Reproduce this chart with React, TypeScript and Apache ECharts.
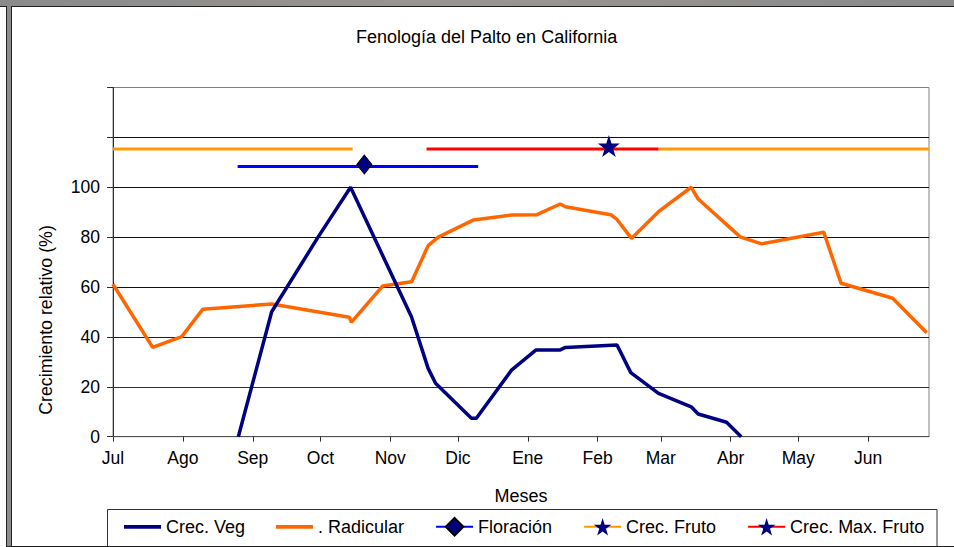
import React, { useEffect, useRef } from "react";
import * as echarts from "echarts";

const months = ["Jul", "Ago", "Sep", "Oct", "Nov", "Dic", "Ene", "Feb", "Mar", "Abr", "May", "Jun"];
const monthStartDays = [0, 31, 62, 92, 123, 153, 184, 215, 243, 274, 304, 335];

// Crec. Veg (day of season from 1 Jul, %)
const vegDays = [55.6, 70.4, 91.1, 105.4, 132.4, 139.8, 143.1, 159, 161.2, 176.8, 187.7, 198.4, 200.7, 223.6, 229.7, 242, 256.5, 259.6, 272.2, 278.7];
const vegVals = [0, 50.1, 80.2, 100, 48.1, 27.4, 21.4, 7.4, 7.4, 26.7, 34.8, 34.8, 35.8, 36.8, 25.7, 17.4, 12.0, 9.1, 5.8, 0];

// . Radicular
const radDays = [0, 17.6, 30.5, 39.8, 70.4, 104.8, 105.8, 119.6, 132.5, 139.8, 144.3, 160, 176.8, 188.1, 198.4, 200.7, 220.8, 223.6, 230, 242, 256.5, 259.6, 278.4, 287.8, 315.3, 323, 345.9, 361];
const radVals = [61.1, 35.8, 40.1, 51.1, 53.2, 47.9, 45.9, 60.4, 62.1, 76.6, 80.0, 86.9, 88.9, 89.0, 93.3, 92.2, 89.0, 87.1, 79.5, 90.2, 100, 95.3, 80, 77.3, 82.0, 61.5, 55.5, 41.7];

// Period bars
const floracionDays = [55.3, 111.5, 162];
const floracionLevel = 108.3;
const frutoSeg1 = [0, 106.3];
const frutoSeg2 = [242, 362];
const frutoLevel = 115.3;
const maxFrutoDays = [139.1, 220, 242];

const xMax = 362;
const yTicks = [0, 20, 40, 60, 80, 100];

const STAR = "path://M50,0 L61.2,34.5 L97.6,34.5 L68.2,55.9 L79.4,90.5 L50,69.1 L20.6,90.5 L31.8,55.9 L2.4,34.5 L38.8,34.5 Z";

export default function App() {
  const ref = useRef<HTMLDivElement>(null);
  useEffect(() => {
    document.body.style.margin = "0";
    const chart = echarts.init(ref.current!, null, { renderer: "svg" });
    const font = "Liberation Sans, Arial, sans-serif";
    const lineIcon = "path://M0 0H40V4H0Z";
    chart.setOption({
      animation: false,
      backgroundColor: "#ffffff",
      textStyle: { fontFamily: font, color: "#000" },
      title: {
        text: "Fenología del Palto en California",
        left: 351,
        top: 23,
        textStyle: { fontSize: 18, fontWeight: "normal", color: "#000", fontFamily: font },
      },
      grid: { left: 113, right: 25, top: 87.5, bottom: 110.3, show: true, borderColor: "#808080", borderWidth: 1, outerBoundsMode: "none" },
      legend: {
        left: 124,
        top: 517,
        padding: 0,
        itemGap: 31,
        itemWidth: 37,
        itemHeight: 22,
        textStyle: { fontSize: 18, color: "#000", fontFamily: font },
        data: [
          { name: "Crec. Veg", icon: lineIcon },
          { name: ". Radicular", icon: lineIcon },
          { name: "Floración" },
          { name: "Crec. Fruto" },
          { name: "Crec. Max. Fruto" },
        ],
      },
      xAxis: {
        type: "value",
        min: 0,
        max: xMax,
        name: "Meses",
        nameLocation: "middle",
        nameGap: 50,
        nameTextStyle: { fontSize: 18, color: "#000", fontFamily: font },
        axisLine: { show: true, lineStyle: { color: "#505050", width: 1 } },
        axisTick: { show: true, length: 5, inside: false, customValues: monthStartDays, lineStyle: { color: "#303030" } },
        axisLabel: {
          customValues: monthStartDays,
          margin: 12,
          fontSize: 17.5,
          color: "#000",
          fontFamily: font,
          formatter: (v: number) => {
            const i = monthStartDays.indexOf(Math.round(v));
            return i >= 0 ? months[i] : "";
          },
        },
        splitLine: { show: false },
      },
      yAxis: {
        type: "value",
        min: 0,
        max: 140,
        interval: 20,
        axisLine: { show: true, lineStyle: { color: "#303030", width: 1 } },
        axisTick: { show: true, length: 6, lineStyle: { color: "#303030" } },
        axisLabel: {
          margin: 13,
          fontSize: 17.5,
          color: "#000",
          fontFamily: font,
          formatter: (v: number) => (yTicks.indexOf(v) >= 0 ? String(v) : ""),
        },
        splitLine: {
          show: true,
          lineStyle: { color: ["#404040", "#303030", "#202020", "#101010", "#101010", "#101010", "#101010", "#808080"], width: 1 },
        },
      },
      graphic: [
        // window frame
        {
          type: "rect",
          shape: { x: 0, y: 0, width: 954, height: 6 },
          style: {
            fill: new echarts.graphic.LinearGradient(0, 0, 1, 0, [
              { offset: 0, color: "#8a8a8a" },
              { offset: 0.5, color: "#9a9590" },
              { offset: 1, color: "#8a8a8a" },
            ]),
          },
          z: 100,
        },
        { type: "line", shape: { x1: 0, y1: 6.5, x2: 954, y2: 6.5 }, style: { stroke: "#202020", lineWidth: 1 }, z: 100 },
        { type: "rect", shape: { x: 7, y: 6, width: 4, height: 541 }, style: { fill: "#8c8c8c" }, z: 100 },
        { type: "line", shape: { x1: 6.5, y1: 6, x2: 6.5, y2: 547 }, style: { stroke: "#202020", lineWidth: 1 }, z: 100 },
        { type: "line", shape: { x1: 11.5, y1: 6, x2: 11.5, y2: 547 }, style: { stroke: "#202020", lineWidth: 1 }, z: 100 },
        { type: "line", shape: { x1: 6, y1: 546.5, x2: 954, y2: 546.5 }, style: { stroke: "#202020", lineWidth: 1 }, z: 100 },
        // legend box
        { type: "rect", shape: { x: 107.5, y: 509.5, width: 829.5, height: 50 }, style: { fill: "#fff", stroke: "#303030", lineWidth: 1 }, z: 0 },
        // y axis name
        {
          type: "text",
          x: 46,
          y: 320,
          rotation: Math.PI / 2,
          style: {
            text: "Crecimiento relativo (%)",
            fontSize: 17.8,
            fontFamily: font,
            fill: "#000",
            textAlign: "center",
            textVerticalAlign: "middle",
          },
        },
      ],
      series: [
        {
          name: "Crec. Veg",
          type: "line",
          data: vegDays.map((d, i) => [d, vegVals[i]]),
          symbol: "none",
          lineStyle: { color: "#000080", width: 3.5 },
          itemStyle: { color: "#000080" },
          z: 3,
        },
        {
          name: ". Radicular",
          type: "line",
          data: radDays.map((d, i) => [d, radVals[i]]),
          symbol: "none",
          lineStyle: { color: "#FF6600", width: 3.5 },
          itemStyle: { color: "#FF6600" },
          z: 2,
        },
        {
          name: "Floración",
          type: "line",
          symbol: "diamond",
          symbolSize: [15, 19],
          showAllSymbol: true,
          data: floracionDays.map((d, i) =>
            i === 1
              ? { value: [d, floracionLevel], symbol: "diamond", symbolSize: [15, 19], symbolOffset: [0, -2] }
              : { value: [d, floracionLevel], symbol: "none" }
          ),
          lineStyle: { color: "#0000FF", width: 3 },
          itemStyle: { color: "#000080", borderColor: "#000", borderWidth: 1 },
          z: 4,
        },
        {
          name: "Crec. Fruto",
          type: "line",
          symbol: STAR,
          symbolSize: 18,
          showAllSymbol: true,
          connectNulls: false,
          data: [
            { value: [frutoSeg1[0], frutoLevel], symbol: "none" },
            { value: [frutoSeg1[1], frutoLevel], symbol: "none" },
            { value: [(frutoSeg1[1] + frutoSeg2[0]) / 2, "-"], symbol: "none" },
            { value: [frutoSeg2[0], frutoLevel], symbol: "none" },
            { value: [frutoSeg2[1], frutoLevel], symbol: "none" },
          ],
          lineStyle: { color: "#FF9900", width: 3 },
          itemStyle: { color: "#000080" },
          z: 4,
        },
        {
          name: "Crec. Max. Fruto",
          type: "line",
          symbol: STAR,
          symbolSize: 22,
          showAllSymbol: true,
          data: maxFrutoDays.map((d, i) =>
            i === 1
              ? { value: [d, frutoLevel], symbol: STAR, symbolSize: 22, symbolOffset: [0, -3] }
              : { value: [d, frutoLevel], symbol: "none" }
          ),
          lineStyle: { color: "#FF0000", width: 3 },
          itemStyle: { color: "#000080" },
          z: 5,
        },
      ],
    });
    return () => chart.dispose();
  }, []);
  return <div ref={ref} style={{ width: 954, height: 547 }} />;
}
